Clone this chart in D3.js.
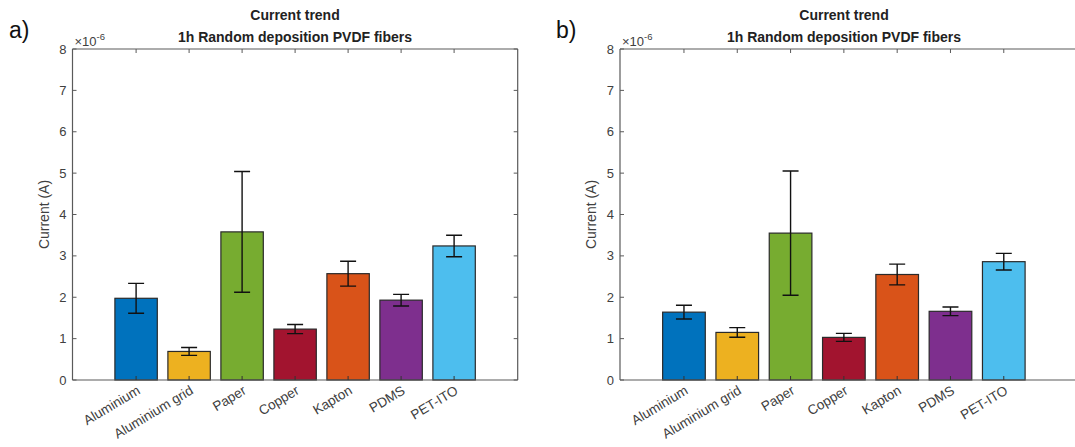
<!DOCTYPE html>
<html><head><meta charset="utf-8">
<script src="https://cdn.jsdelivr.net/npm/d3@7"></script>
<style>
body{margin:0;background:#fff;}
svg{display:block;font-family:"Liberation Sans",Arial,sans-serif;}
</style></head>
<body><svg id="c" width="1075" height="447"></svg>
<script>
const categories = ["Aluminium","Aluminium grid","Paper","Copper","Kapton","PDMS","PET-ITO"];
const colors = ["#0072BD","#EDB120","#77AC30","#A2142F","#D95319","#7E2F8E","#4DBEEE"];
const valuesA = [1.975,0.69,3.58,1.23,2.57,1.93,3.24];
const errorsA = [0.36,0.095,1.46,0.11,0.30,0.14,0.26];
const valuesB = [1.64,1.15,3.55,1.03,2.55,1.66,2.86];
const errorsB = [0.165,0.115,1.50,0.097,0.25,0.105,0.20];
const yTicks = [0,1,2,3,4,5,6,7,8];
const title1 = "Current trend";
const title2 = "1h Random deposition PVDF fibers";

const svg = d3.select("#c");
const axisCol = "#5a5a5a", textCol = "#404040";

function panel(opts){
  const g = svg.append("g");
  const x = d3.scaleLinear().domain(opts.xdom).range([opts.left, opts.right]);
  const y = d3.scaleLinear().domain([0,8]).range([380,49]);
  const bw = x(0.8) - x(0);
  g.selectAll("rect.bar").data(opts.values).enter().append("rect")
    .attr("x",(d,i)=>x(i+1)-bw/2).attr("width",bw)
    .attr("y",d=>y(d)).attr("height",d=>y(0)-y(d))
    .attr("fill",(d,i)=>colors[i]).attr("stroke","#2a2a2a").attr("stroke-width",1.2);
  const rEdge = opts.right;
  g.append("path").attr("d",`M${opts.left},${y(8)}H${rEdge}M${opts.left},${y(0)}H${rEdge}M${opts.left},${y(0)}V${y(8)}` + (opts.rightLine?`M${rEdge},${y(0)}V${y(8)}`:""))
    .attr("stroke",axisCol).attr("stroke-width",1.2).attr("fill","none");
  yTicks.forEach(t=>{
    g.append("line").attr("x1",opts.left).attr("x2",opts.left+4).attr("y1",y(t)).attr("y2",y(t)).attr("stroke",axisCol);
    if(opts.rightLine) g.append("line").attr("x1",rEdge).attr("x2",rEdge-4).attr("y1",y(t)).attr("y2",y(t)).attr("stroke",axisCol);
    g.append("text").attr("x",opts.left-6).attr("y",y(t)+4.5).attr("text-anchor","end")
      .attr("font-size",13).attr("fill",textCol).text(t);
  });
  categories.forEach((c,i)=>{
    const xx = x(i+1);
    g.append("line").attr("x1",xx).attr("x2",xx).attr("y1",y(0)).attr("y2",y(0)-4).attr("stroke","#333");
    g.append("line").attr("x1",xx).attr("x2",xx).attr("y1",y(8)).attr("y2",y(8)+4).attr("stroke",axisCol);
    g.append("text").attr("transform",`translate(${xx+5},${y(0)+13}) rotate(-31)`)
      .attr("text-anchor","end").attr("font-size",13.5).attr("fill",textCol).text(c);
  });
  opts.values.forEach((v,i)=>{
    const e = opts.errors[i], xx = x(i+1), cw = 8;
    g.append("path").attr("d",`M${xx},${y(v-e)}V${y(v+e)}M${xx-cw},${y(v+e)}H${xx+cw}M${xx-cw},${y(v-e)}H${xx+cw}`)
      .attr("stroke","#111").attr("stroke-width",1.4).attr("fill","none");
  });
  const ex = g.append("text").attr("x",opts.left+2).attr("y",45.5).attr("font-size",13).attr("fill",textCol);
  ex.append("tspan").text("×10");
  ex.append("tspan").attr("dy",-6).attr("font-size",9.5).text("-6");
  g.append("text").attr("transform",`translate(${opts.left-24},${(y(0)+y(8))/2}) rotate(-90)`)
    .attr("text-anchor","middle").attr("font-size",14).attr("fill",textCol).text("Current (A)");
  const cx = opts.titleX;
  g.append("text").attr("x",cx).attr("y",20).attr("text-anchor","middle").attr("font-size",14).attr("font-weight","bold").attr("fill","#222").text(title1);
  g.append("text").attr("x",cx).attr("y",42).attr("text-anchor","middle").attr("font-size",14).attr("font-weight","bold").attr("fill","#222").text(title2);
  g.append("text").attr("x",opts.letterX).attr("y",38).attr("font-size",23).attr("fill","#111").text(opts.letter);
}

panel({left:72.5,right:517.7,xdom:[-0.2,8.2],values:valuesA,errors:errorsA,rightLine:true,titleX:295,letter:"a)",letterX:9});
panel({left:620,right:1080,xdom:[-0.2,8.43],values:valuesB,errors:errorsB,rightLine:false,titleX:844,letter:"b)",letterX:556});
</script></body></html>
